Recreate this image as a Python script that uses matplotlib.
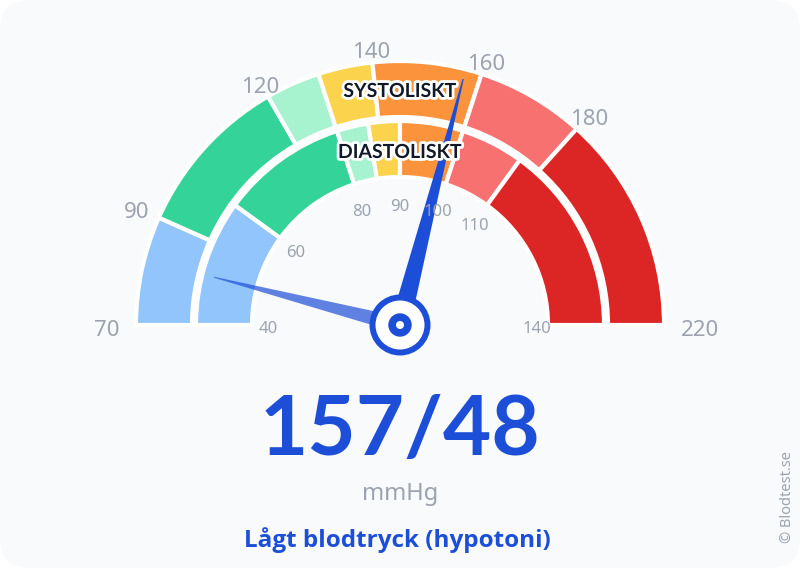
import numpy as np
import matplotlib
matplotlib.use("Agg")
import matplotlib.pyplot as plt
from matplotlib.patches import Wedge, Circle, Polygon, FancyBboxPatch
import matplotlib.patheffects as pe

# gauge data
sys_bounds = [70, 90, 120, 130, 140, 160, 180, 220]
dia_bounds = [40, 60, 80, 85, 90, 100, 110, 140]
zone_colors = ["#93c5fd", "#34d399", "#a7f3d0", "#fcd34d", "#fb923c", "#f87171", "#dc2626"]
sys_ticks = [70, 90, 120, 140, 160, 180, 220]
dia_ticks = [40, 60, 80, 90, 100, 110, 140]
systolic = 157
diastolic = 48
reading = "157/48"
unit = "mmHg"
verdict = "Lågt blodtryck (hypotoni)"

BLUE = "#1d4ed8"
GRAY = "#9ca3af"
cx, cy = 400, 243


def ang(v, lo, hi):
    # value -> angle in degrees (180 on the left, 0 on the right)
    return 180 - (v - lo) / (hi - lo) * 180


fig = plt.figure(figsize=(8, 5.68), dpi=100)
fig.patch.set_facecolor("white")
ax = fig.add_axes([0, 0, 1, 1])
ax.set_xlim(0, 800)
ax.set_ylim(0, 568)
ax.axis("off")

ax.add_patch(FancyBboxPatch((30, 30), 740, 508, boxstyle="round,pad=30",
                            fc="#f8fafc", ec="none", zorder=0))

# bands
for bounds, r_out, w in [(sys_bounds, 264, 56), (dia_bounds, 204, 56)]:
    lo, hi = bounds[0], bounds[-1]
    for a, b, c in zip(bounds[:-1], bounds[1:], zone_colors):
        ax.add_patch(Wedge((cx, cy), r_out, ang(b, lo, hi), ang(a, lo, hi), width=w,
                           fc=c, ec="white", lw=3, zorder=2))

# tick labels (drawn over the needles, like the original)
for t in sys_ticks:
    a = np.radians(ang(t, sys_bounds[0], sys_bounds[-1]))
    hw = 7 * len(str(t))
    r = 279 + hw * np.cos(a) ** 4
    ax.text(cx + r * np.cos(a), cy + r * np.sin(a) - 5, str(t), ha="center", va="center",
            fontsize=16, color=GRAY, family="Noto Sans", zorder=12)
for t in dia_ticks:
    a = np.radians(ang(t, dia_bounds[0], dia_bounds[-1]))
    hw = 5 * len(str(t))
    r = 122 + hw * np.cos(a) ** 2
    ax.text(cx + r * np.cos(a), cy + r * np.sin(a) - 4, str(t), ha="center", va="center",
            fontsize=12, color=GRAY, family="Noto Sans", zorder=12)

stroke = [pe.withStroke(linewidth=4, foreground="white")]
ax.text(cx, 471, "SYSTOLISKT", ha="center", va="baseline", fontsize=14,
        fontweight="bold", family="Lato", color="#111827", path_effects=stroke, zorder=12)
ax.text(cx, 410, "DIASTOLISKT", ha="center", va="baseline", fontsize=14,
        fontweight="bold", family="Lato", color="#111827", path_effects=stroke, zorder=12)


# needles
def needle(value, lo, hi, length, w0, w1, **kw):
    a = np.radians(ang(value, lo, hi))
    d = np.array([np.cos(a), np.sin(a)])
    n = np.array([-d[1], d[0]])
    c = np.array([cx, cy])
    tip = c + d * length
    pts = [c + n * w0, tip + n * w1, tip - n * w1, c - n * w0]
    ax.add_patch(Polygon(pts, closed=True, ec="none", **kw))


needle(diastolic, dia_bounds[0], dia_bounds[-1], 192, 8, 0.5, fc=BLUE, alpha=0.7, zorder=5)
needle(systolic, sys_bounds[0], sys_bounds[-1], 254, 10, 0.6, fc=BLUE, zorder=5)

ax.add_patch(Circle((cx, cy), 30.5, fc=BLUE, zorder=6))
ax.add_patch(Circle((cx, cy), 24.5, fc="white", zorder=7))
ax.add_patch(Circle((cx, cy), 11.7, fc=BLUE, zorder=8))
ax.add_patch(Circle((cx, cy), 4, fc="white", zorder=9))

# readout
ax.text(cx, 113, reading, ha="center", va="baseline", fontsize=60, fontweight="bold",
        family="Lato", color=BLUE)
ax.text(cx, 68, unit, ha="center", va="baseline", fontsize=17, family="Noto Sans", color=GRAY)
ax.text(397, 21, verdict, ha="center", va="baseline", fontsize=17.5, fontweight="bold",
        family="Open Sans", color=BLUE)
ax.text(787, 71, "© Blodtest.se", ha="center", va="center", rotation=90, fontsize=10.5,
        family="Noto Sans", color=GRAY)

fig.savefig("out.png", dpi=100, facecolor=fig.get_facecolor())
